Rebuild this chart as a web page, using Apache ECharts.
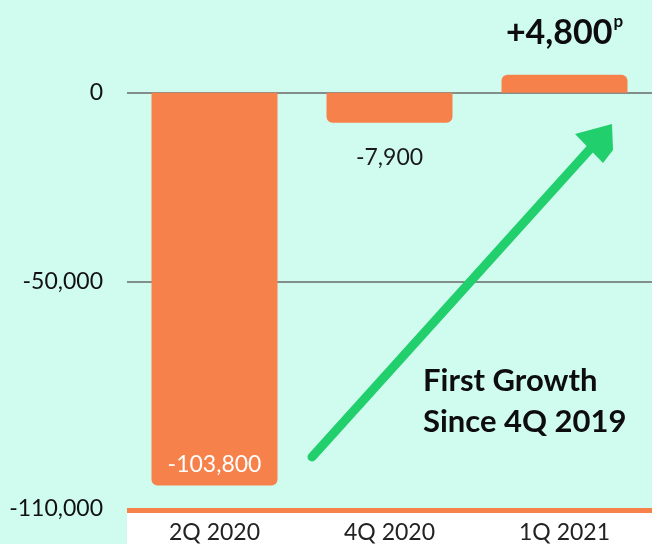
<!DOCTYPE html>
<html>
<head>
<meta charset="utf-8">
<script src="https://cdn.jsdelivr.net/npm/echarts@6/dist/echarts.min.js"></script>
<style>
html,body{margin:0;padding:0;background:#d0fcf0;}
#c{width:652px;height:544px;}
</style>
</head>
<body>
<div id="c"></div>
<script>
var categories = ['2Q 2020', '4Q 2020', '1Q 2021'];
var values = [-103800, -7900, 4800];
var flags = ['', '', 'p'];
var tickLabels = [0, -50000, -110000];
var gridValues = [0, -50000];
var note = ['First Growth', 'Since 4Q 2019'];

var ORANGE = '#f6814b';
var GREEN = '#22cf6d';
var FONT = 'Lato';

function fmt(v) {
  var s = Math.abs(v).toString().replace(/\B(?=(\d{3})+(?!\d))/g, ',');
  return (v < 0 ? '-' : '') + s;
}

var chart = echarts.init(document.getElementById('c'), null, {renderer: 'canvas'});

var barData = values.map(function (v, i) {
  var item = {value: v, itemStyle: {borderRadius: v < 0 ? [0, 0, 6, 6] : [6, 6, 0, 0]}};
  if (i === 0) {
    item.label = {show: true, position: 'insideBottom', distance: 9, color: '#ffffff', fontSize: 23, fontFamily: FONT,
      formatter: function (p) { return fmt(p.value); }};
  } else if (v < 0) {
    item.label = {show: true, position: 'bottom', distance: 23, color: '#1a1a1a', fontSize: 23, fontFamily: FONT,
      formatter: function (p) { return fmt(p.value); }};
  } else {
    item.label = {show: true, position: 'top', distance: 22,
      formatter: function (p) { return '{a|+' + fmt(p.value) + '}{b|' + flags[p.dataIndex] + '}'; },
      rich: {
        a: {fontSize: 34, fontWeight: 'bold', color: '#0d0d0d', fontFamily: FONT, lineHeight: 40},
        b: {fontSize: 17, fontWeight: 'bold', color: '#0d0d0d', fontFamily: FONT, verticalAlign: 'top', lineHeight: 40, padding: [0, 0, 13, 1]}
      }};
  }
  return item;
});

var option = {
  backgroundColor: '#d0fcf0',
  animation: false,
  grid: {left: 127, right: -2, top: 55, bottom: 33, containLabel: false},
  xAxis: {
    type: 'category',
    data: categories,
    position: 'bottom',
    axisLine: {show: false},
    axisTick: {show: false},
    axisLabel: {fontSize: 23, color: '#222', fontFamily: FONT, margin: 12}
  },
  yAxis: {
    type: 'value',
    min: -110000,
    max: 10000,
    interval: 10000,
    axisLine: {show: false},
    axisTick: {show: false},
    splitLine: {show: false},
    axisLabel: {
      fontSize: 23, color: '#111', fontFamily: FONT, margin: 24,
      formatter: function (v) { return tickLabels.indexOf(v) >= 0 ? fmt(v) : ''; }
    }
  },
  series: [{
    type: 'bar',
    z: 2,
    data: barData,
    barWidth: 126,
    itemStyle: {color: ORANGE},
    markLine: {
      z: 1,
      silent: true,
      symbol: ['none', 'none'],
      label: {show: false},
      lineStyle: {color: '#6a6a6a', width: 1.5, type: 'solid'},
      data: gridValues.map(function (v) { return {yAxis: v}; })
    }
  }],
  graphic: [
    {type: 'rect', z: -10, shape: {x: 127, y: 513, width: 540, height: 40}, style: {fill: '#ffffff'}},
    {type: 'rect', z: 10, shape: {x: 127, y: 508, width: 540, height: 5}, style: {fill: ORANGE}},
    {type: 'line', z: 20, shape: {x1: 312, y1: 457, x2: 600, y2: 138},
      style: {stroke: GREEN, lineWidth: 9, lineCap: 'round'}},
    {type: 'polygon', z: 20, shape: {points: [[575, 134], [612, 124], [613, 150], [603, 163]]},
      style: {fill: GREEN}},
    {type: 'text', z: 20, left: 423, top: 360,
      style: {text: note.join('\n'), fill: '#0d0d0d', font: 'bold 31px ' + FONT, lineHeight: 41}}
  ]
};
chart.setOption(option);
</script>
</body>
</html>
